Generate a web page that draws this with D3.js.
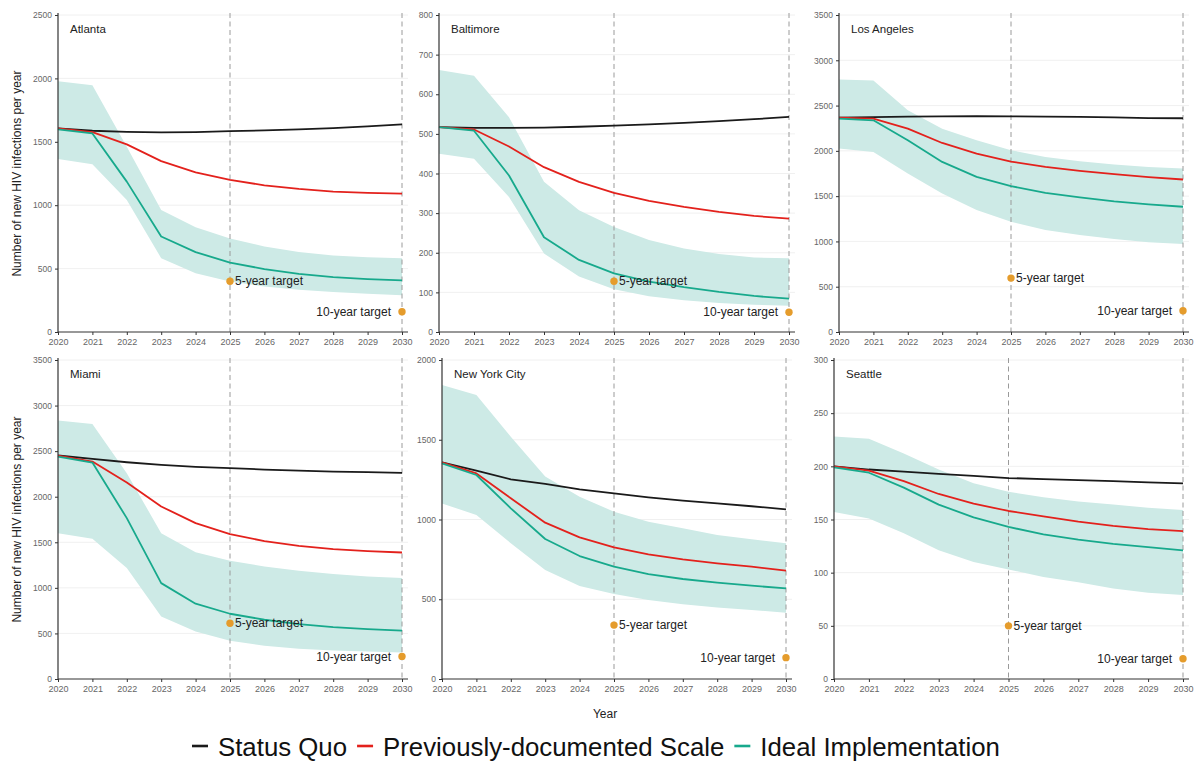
<!DOCTYPE html>
<html><head><meta charset="utf-8">
<script src="https://cdn.jsdelivr.net/npm/d3@7/dist/d3.min.js"></script>
<style>
body{margin:0;background:#fff;}
svg{display:block;}
</style></head>
<body>
<svg id="chart" width="1199" height="762"></svg>
<script>
// ---------- DATA ----------
const years = [2020,2021,2022,2023,2024,2025,2026,2027,2028,2029,2030];
const cities = ["Atlanta","Baltimore","Los Angeles","Miami","New York City","Seattle"];
const yMax = [2500, 800, 3500, 3500, 2000, 300];
const yStep = [500, 100, 500, 500, 500, 50];

const statusQuo = [
  [1605,1587,1579,1574,1577,1584,1590,1598,1608,1621,1637],
  [517,515,515,516,518,521,524,528,532,537,543],
  [2366,2373,2378,2381,2382,2381,2379,2376,2370,2362,2360],
  [2452,2415,2378,2349,2327,2313,2298,2287,2276,2269,2262],
  [1358,1306,1252,1223,1189,1164,1139,1118,1101,1083,1064],
  [200,197,195,193,191,189,188,187,186,185,184]
];
const prevScale = [
  [1605,1577,1480,1348,1259,1199,1157,1128,1107,1097,1091],
  [517,511,468,416,379,351,331,316,303,293,286],
  [2366,2355,2245,2087,1970,1882,1823,1779,1742,1709,1684],
  [2452,2386,2156,1893,1710,1589,1513,1461,1425,1403,1388],
  [1358,1289,1133,980,888,825,782,750,725,704,679],
  [200,196,186,174,165,158,153,148,144,141,139]
];
const ideal = [
  [1598,1566,1186,753,630,548,496,459,433,417,407],
  [517,508,395,239,182,148,127,113,101,91,84],
  [2355,2337,2117,1878,1713,1610,1537,1486,1442,1409,1383],
  [2441,2375,1765,1052,826,716,650,603,570,548,530],
  [1352,1279,1070,878,771,704,658,627,604,585,568],
  [199,194,180,164,152,143,136,131,127,124,121]
];
const idealUpper = [
  [1978,1946,1461,963,826,737,674,630,603,590,582],
  [661,647,542,379,307,265,232,211,197,188,186],
  [2788,2777,2447,2245,2117,2007,1933,1886,1849,1823,1805],
  [2835,2799,2258,1600,1392,1297,1235,1187,1151,1125,1107],
  [1843,1781,1519,1269,1143,1049,986,945,903,876,851],
  [228,226,212,197,184,176,171,167,164,161,159]
];
const idealLower = [
  [1364,1322,1041,582,464,399,359,333,315,302,289],
  [450,437,341,198,140,108,90,80,73,69,66],
  [2025,1988,1750,1530,1346,1218,1126,1071,1027,990,972],
  [1600,1538,1217,687,522,420,365,332,314,303,292],
  [1101,1028,851,683,583,533,495,468,449,433,416],
  [157,151,137,121,110,103,96,91,85,81,79]
];
const target5 = [400, 128, 595, 612, 338, 50];
const target10 = [160, 50, 235, 248, 134, 19];
const targetYears = [2025, 2030];
const targetLabels = ["5-year target", "10-year target"];
const seriesNames = ["Status Quo", "Previously-documented Scale", "Ideal Implementation"];
const seriesColors = ["#1a1a1a", "#e3211c", "#17a98c"];

// ---------- LAYOUT ----------
const panelLeft  = [58, 439, 839, 58, 442, 834];
const panelRight = [402, 789, 1183, 402, 786, 1183];
const rowTop = [15, 360];
const rowBottom = [332, 679];

const svg = d3.select("#chart");
const font = "'Liberation Sans', Arial, sans-serif";

cities.forEach((city, i) => {
  const row = i < 3 ? 0 : 1;
  const x = d3.scaleLinear().domain([2020, 2030]).range([panelLeft[i], panelRight[i]]);
  const y = d3.scaleLinear().domain([0, yMax[i]]).range([rowBottom[row], rowTop[row]]);
  const g = svg.append("g");
  const xEnd = panelRight[i] + 6;
  const ticks = d3.range(0, yMax[i] + 1e-9, yStep[i]);

  // gridlines
  g.selectAll(".grid").data(ticks.filter(t => t > 0)).join("line")
    .attr("x1", panelLeft[i]).attr("x2", xEnd)
    .attr("y1", d => y(d)).attr("y2", d => y(d))
    .attr("stroke", "#ececec").attr("stroke-width", 0.8);

  // band
  const area = d3.area().x((d, k) => x(years[k]))
    .y0((d, k) => y(idealLower[i][k])).y1((d, k) => y(idealUpper[i][k]));
  g.append("path").datum(years).attr("d", area)
    .attr("fill", "#cdeae6").attr("stroke", "none");

  // dashed verticals
  targetYears.forEach(ty => {
    g.append("line").attr("x1", x(ty)).attr("x2", x(ty))
      .attr("y1", rowTop[row] - 2).attr("y2", rowBottom[row])
      .attr("stroke", "#9a9a9a").attr("stroke-width", 1)
      .attr("stroke-dasharray", "5,3.5");
  });

  // lines
  const line = d3.line().x((d, k) => x(years[k])).y(d => y(d));
  [statusQuo[i], prevScale[i], ideal[i]].forEach((vals, s) => {
    g.append("path").datum(vals).attr("d", line)
      .attr("fill", "none").attr("stroke", seriesColors[s])
      .attr("stroke-width", 1.8).attr("stroke-linejoin", "round");
  });

  // axes
  const yAxis = d3.axisLeft(y).tickValues(ticks).tickSize(3).tickPadding(3).tickFormat(d3.format("d"));
  const ya = g.append("g").attr("transform", `translate(${panelLeft[i]},0)`).call(yAxis);
  ya.select(".domain").attr("stroke", "#333").attr("stroke-width", 1.2)
    .attr("d", `M0,${rowTop[row] - 2}V${rowBottom[row]}`);
  ya.selectAll(".tick line").attr("stroke", "#333");
  ya.selectAll(".tick text").attr("fill", "#666").style("font-size", "8.5px").style("font-family", font);

  const xAxis = d3.axisBottom(x).tickValues(years).tickSize(3).tickPadding(3.5).tickFormat(d3.format("d"));
  const xa = g.append("g").attr("transform", `translate(0,${rowBottom[row]})`).call(xAxis);
  xa.select(".domain").attr("stroke", "#333").attr("stroke-width", 1.2)
    .attr("d", `M${panelLeft[i]},0H${xEnd}`);
  xa.selectAll(".tick line").attr("stroke", "#333");
  xa.selectAll(".tick text").attr("fill", "#666").style("font-size", "9px").style("font-family", font);

  // targets
  const tvals = [target5[i], target10[i]];
  tvals.forEach((tv, t) => {
    g.append("circle").attr("cx", x(targetYears[t])).attr("cy", y(tv)).attr("r", 3.7)
      .attr("fill", "#e59c2c");
    g.append("text")
      .attr("x", t === 0 ? x(targetYears[t]) + 5 : x(targetYears[t]) - 11)
      .attr("y", y(tv)).attr("dy", "0.35em")
      .attr("text-anchor", t === 0 ? "start" : "end")
      .attr("fill", "#222").style("font-size", "12px").style("font-family", font)
      .text(targetLabels[t]);
  });

  // city label
  g.append("text").attr("x", panelLeft[i] + 12).attr("y", rowTop[row] + 14).attr("dy", "0.35em")
    .attr("fill", "#222").style("font-size", "11.5px").style("font-family", font).text(city);
});

// y-axis titles
rowTop.forEach((t, r) => {
  svg.append("text").attr("transform", `translate(17,${(t + rowBottom[r]) / 2}) rotate(-90)`)
    .attr("text-anchor", "middle").attr("dy", "0.35em")
    .attr("fill", "#222").style("font-size", "12px").style("font-family", font)
    .text("Number of new HIV infections per year");
});

// x title
svg.append("text").attr("x", 605).attr("y", 714).attr("text-anchor", "middle").attr("dy", "0.35em")
  .attr("fill", "#222").style("font-size", "12px").style("font-family", font).text("Year");

// legend
const leg = svg.append("g");
let lx = 192;
seriesNames.forEach((name, s) => {
  leg.append("line").attr("x1", lx).attr("x2", lx + 16).attr("y1", 746).attr("y2", 746)
    .attr("stroke", seriesColors[s]).attr("stroke-width", 2.6);
  const t = leg.append("text").attr("x", lx + 26).attr("y", 747).attr("dy", "0.35em")
    .attr("fill", "#111").style("font-size", "25.8px").style("font-family", font).text(name);
  lx += 26 + t.node().getComputedTextLength() + 10;
});
</script>
</body></html>
